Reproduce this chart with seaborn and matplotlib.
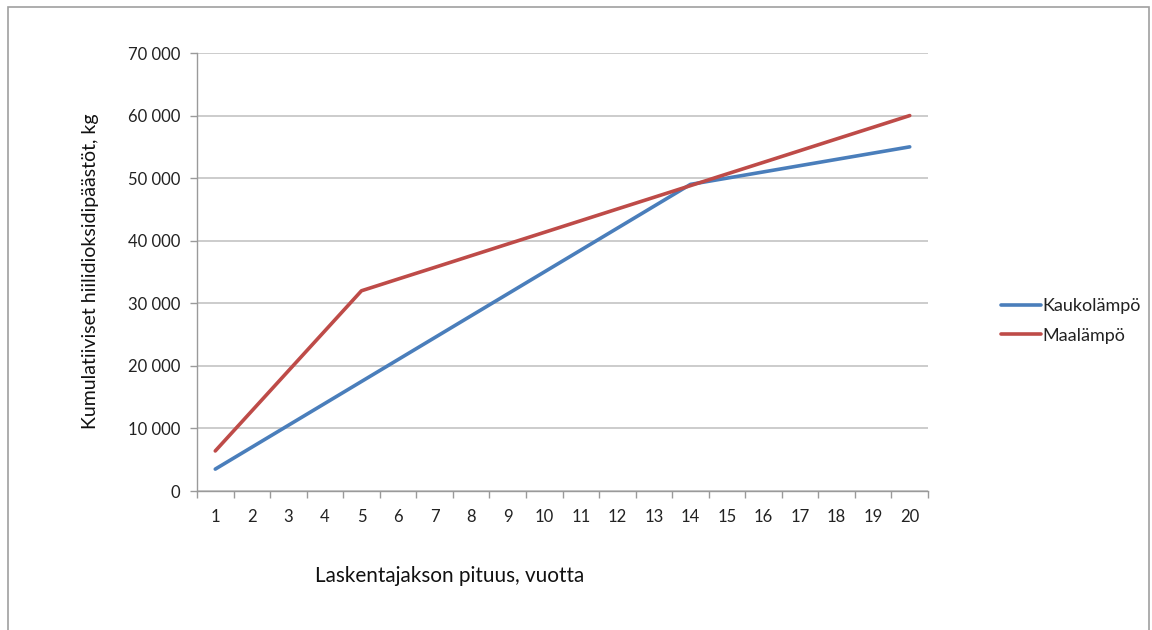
import matplotlib
matplotlib.use("Agg")
import matplotlib.pyplot as plt
from matplotlib.patches import Rectangle
from matplotlib.ticker import FuncFormatter, FixedLocator
import seaborn as sns
import pandas as pd

years = list(range(1, 21))
kaukolampo = [3500, 7000, 10500, 14000, 17500, 21000, 24500, 28000, 31500, 35000,
              38500, 42000, 45500, 49000, 50000, 51000, 52000, 53000, 54000, 55000]
maalampo = [6400, 12800, 19200, 25600, 32000, 33870, 35730, 37600, 39470, 41330,
            43200, 45070, 46930, 48800, 50670, 52530, 54400, 56270, 58130, 60000]
series_names = ["Kaukolämpö", "Maalämpö"]
colors = ["#4A7EBB", "#BE4B48"]

df = pd.DataFrame({
    "vuosi": years * 2,
    "paastot": kaukolampo + maalampo,
    "lammitys": [series_names[0]] * len(years) + [series_names[1]] * len(years),
})

sns.set_theme(style="white")
plt.rcParams["font.family"] = ["Lato", "DejaVu Sans"]

fig = plt.figure(figsize=(11.52, 6.3), dpi=100, facecolor="white")
ax = fig.add_axes([197 / 1152, 1 - 491 / 630, (928 - 197) / 1152, (491 - 53) / 630])

sns.lineplot(data=df, x="vuosi", y="paastot", hue="lammitys",
             palette=dict(zip(series_names, colors)), linewidth=2.6,
             ax=ax, legend=False)

ax.set_xlim(0.5, 20.5)
ax.set_ylim(0, 70000)
ax.set_yticks(range(0, 70001, 10000))
ax.yaxis.set_major_formatter(FuncFormatter(lambda v, p: f"{int(v):,}".replace(",", " ")))
ax.set_xticks(years)
ax.set_xticklabels([str(y) for y in years])
ax.xaxis.set_minor_locator(FixedLocator([y + 0.5 for y in [0] + years]))

ax.grid(axis="y", color="#bfbfbf", linewidth=1.1)
ax.set_axisbelow(True)
for s in ["top", "right"]:
    ax.spines[s].set_visible(False)
for s in ["left", "bottom"]:
    ax.spines[s].set_color("#9a9a9a")
    ax.spines[s].set_linewidth(1.0)

ax.tick_params(axis="x", which="major", length=0, pad=13, labelsize=12, labelcolor="#222222")
ax.tick_params(axis="x", which="minor", length=5, color="#9a9a9a", width=1.0, bottom=True)
ax.tick_params(axis="y", which="major", length=5, color="#9a9a9a", width=1.0, left=True,
               pad=7, labelsize=12, labelcolor="#222222")

ax.set_xlabel("")
ax.set_ylabel("Kumulatiiviset hiilidioksidipäästöt, kg", fontsize=14, color="#111111")
ax.yaxis.set_label_coords((99 - 197) / 731, (491 - 271) / 438)
fig.text(315 / 1152, 1 - 576 / 630, "Laskentajakson pituus, vuotta", fontsize=14.9,
         color="#111111", ha="left", va="center")

handles = [plt.Line2D([], [], color=c, linewidth=2.6) for c in colors]
fig.legend(handles, series_names, loc="center left",
           bbox_to_anchor=(985 / 1152, 1 - 321 / 630), frameon=False,
           fontsize=13, handlelength=2.2, handletextpad=0.05, labelspacing=0.75,
           labelcolor="#222222")

fig.patches.append(Rectangle((8 / 1152, -0.05), (1149 - 8) / 1152, 1.05 - 7 / 630,
                             transform=fig.transFigure, fill=False,
                             edgecolor="#a0a0a0", linewidth=1.2))

fig.savefig("out.png", dpi=100, facecolor="white")
